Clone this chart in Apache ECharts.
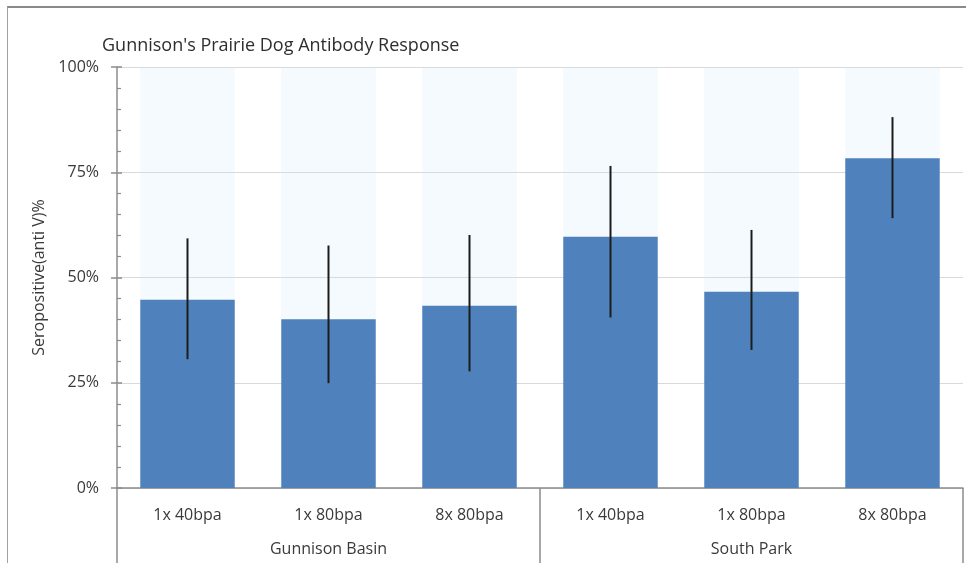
<!DOCTYPE html>
<html>
<head>
<meta charset="utf-8">
<script src="https://cdn.jsdelivr.net/npm/echarts@6/dist/echarts.min.js"></script>
<style>
  html, body { margin: 0; padding: 0; background: #fff; }
  #wrap { position: relative; width: 966px; height: 563px; overflow: hidden; }
  #chart { position: absolute; left: 0; top: 0; width: 966px; height: 563px; }
  #frame {
    position: absolute; left: 7px; top: 6px; width: 970px; height: 570px;
    border-top: 2px solid #8a8a8a; border-left: 1px solid #a0a0a0;
    pointer-events: none;
  }
</style>
</head>
<body>
<div id="wrap">
  <div id="chart"></div>
  <div id="frame"></div>
</div>
<script>
// Treatments within each site, and the two sites
const categories = ['1x 40bpa', '1x 80bpa', '8x 80bpa', '1x 40bpa', '1x 80bpa', '8x 80bpa'];
const sites = ['Gunnison Basin', 'South Park'];

// Seropositive (anti V) percentage per treatment, with confidence limits
const seropositive = [44.7, 40.1, 43.3, 59.7, 46.6, 78.3];
const errLow  = [30.6, 24.9, 27.7, 40.5, 32.8, 64.1];
const errHigh = [59.3, 57.6, 60.1, 76.5, 61.3, 88.1];

// Y ticks
const yTicks = [0, 25, 50, 75, 100];

const FONT = 'Open Sans';
const TEXT = '#3a3a3a';
const AXIS = '#8c8c8c';

const chart = echarts.init(document.getElementById('chart'), null, { renderer: 'canvas' });

const errorData = categories.map((c, i) => [i, errLow[i], errHigh[i]]);

const yCommon = {
  type: 'value',
  min: yTicks[0],
  max: yTicks[yTicks.length - 1],
  interval: yTicks[1] - yTicks[0],
  position: 'left'
};

chart.setOption({
  animation: false,
  textStyle: { fontFamily: FONT },
  title: {
    text: "Gunnison's Prairie Dog Antibody Response",
    left: 97, top: 32,
    textStyle: { fontFamily: FONT, fontSize: 18, fontWeight: 'normal', color: '#2e2e2e' }
  },
  grid: { left: 117, right: 3, top: 67, bottom: 75, containLabel: false },
  xAxis: [
    {
      type: 'category',
      data: categories,
      position: 'bottom',
      axisLine: { show: true, lineStyle: { color: AXIS, width: 1.5 } },
      axisTick: { show: false },
      axisLabel: { color: TEXT, fontSize: 16, fontFamily: FONT, margin: 19, interval: 0 },
      splitLine: { show: false }
    },
    {
      type: 'category',
      data: sites,
      position: 'bottom',
      axisLine: { show: false },
      axisTick: { show: true, length: 76, lineStyle: { color: AXIS, width: 1.5 } },
      axisLabel: { color: TEXT, fontSize: 16, fontFamily: FONT, margin: 53, interval: 0 },
      splitLine: { show: false }
    }
  ],
  yAxis: [
    Object.assign({}, yCommon, {
      name: 'Seropositive(anti V)%',
      nameLocation: 'middle',
      nameGap: 64,
      nameTextStyle: { color: TEXT, fontSize: 16, fontFamily: FONT },
      axisLine: { show: true, lineStyle: { color: AXIS, width: 1.5 } },
      axisTick: { show: true, inside: true, length: 5, lineStyle: { color: AXIS, width: 1.5 } },
      minorTick: { show: true, splitNumber: 5, length: 4, lineStyle: { color: AXIS, width: 1.2 } },
      axisLabel: { color: TEXT, fontSize: 16, fontFamily: FONT, margin: 18, formatter: '{value}%' },
      splitLine: { show: true, lineStyle: { color: '#d9d9d9', width: 1 } }
    }),
    Object.assign({}, yCommon, {
      axisLine: { show: false },
      axisTick: { show: true, inside: false, length: 6, lineStyle: { color: AXIS, width: 1.5 } },
      axisLabel: { show: false },
      splitLine: { show: false }
    })
  ],
  series: [
    {
      name: 'Seropositive',
      type: 'bar',
      xAxisIndex: 0,
      yAxisIndex: 0,
      data: seropositive,
      barCategoryGap: '33%',
      itemStyle: { color: '#4f81bd' },
      showBackground: true,
      backgroundStyle: { color: 'rgba(200,228,245,0.2)' }
    },
    {
      name: 'Confidence interval',
      type: 'custom',
      xAxisIndex: 0,
      yAxisIndex: 0,
      data: errorData,
      z: 5,
      renderItem: function (params, api) {
        const lo = api.coord([api.value(0), api.value(1)]);
        const hi = api.coord([api.value(0), api.value(2)]);
        return {
          type: 'line',
          shape: { x1: lo[0], y1: lo[1], x2: hi[0], y2: hi[1] },
          style: { stroke: '#1c1c1c', lineWidth: 2 }
        };
      }
    }
  ]
});
</script>
</body>
</html>
